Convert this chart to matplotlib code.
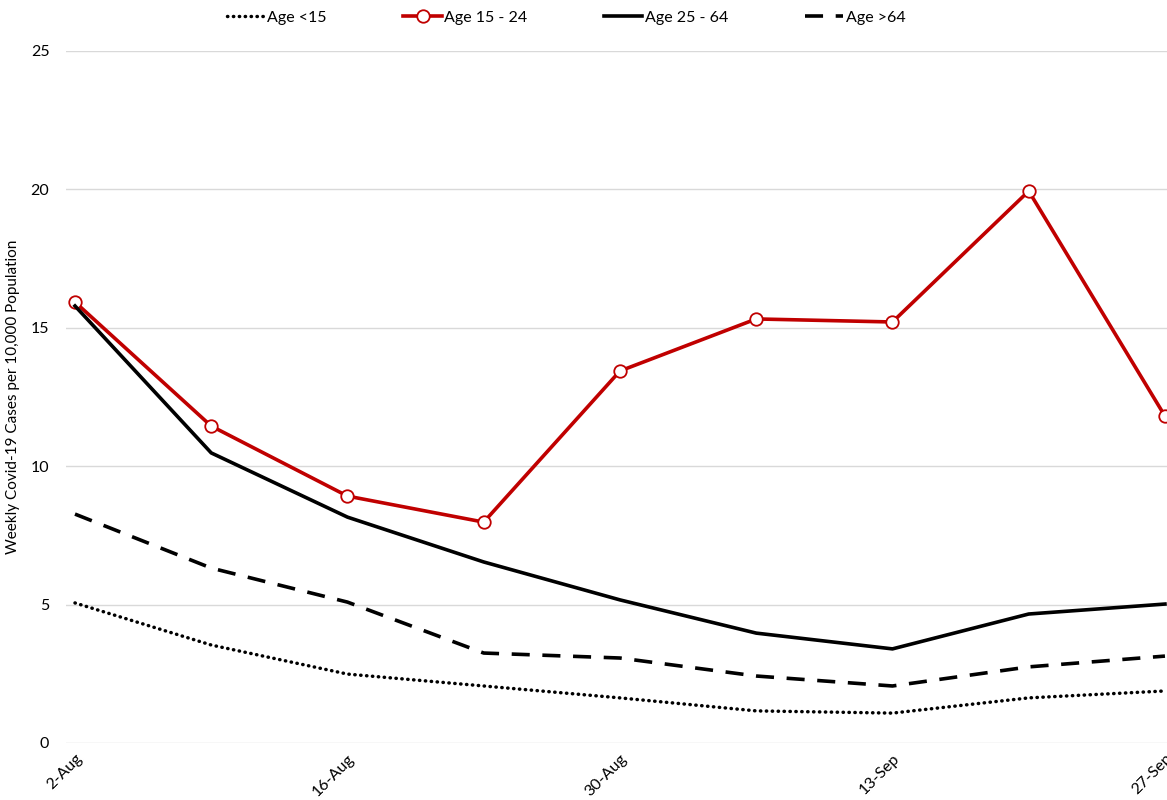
import matplotlib
matplotlib.use("Agg")
import matplotlib.pyplot as plt

plt.rcParams['font.family'] = ['Lato', 'DejaVu Sans']

dates = ["2-Aug", "9-Aug", "16-Aug", "23-Aug", "30-Aug", "6-Sep", "13-Sep", "20-Sep", "27-Sep"]
tick_labels = ["2-Aug", "16-Aug", "30-Aug", "13-Sep", "27-Sep"]
age_lt15 = [5.06, 3.54, 2.49, 2.06, 1.63, 1.16, 1.08, 1.63, 1.88]
age_15_24 = [15.93, 11.45, 8.92, 7.98, 13.44, 15.32, 15.21, 19.94, 11.81]
age_25_64 = [15.79, 10.48, 8.16, 6.54, 5.17, 3.97, 3.40, 4.66, 5.02]
age_gt64 = [8.27, 6.32, 5.09, 3.25, 3.07, 2.42, 2.06, 2.75, 3.14]

fig = plt.figure(figsize=(11.67, 8), dpi=100)
ax = fig.add_axes([66/1167, 1 - 743/800, 1 - 66/1167, (743 - 51)/800])

x = list(range(len(dates)))
red = "#C00000"
ax.plot(x, age_lt15, color="black", lw=2.5, linestyle=(0, (0.1, 1.6)), dash_capstyle="round", label="Age <15")
ax.plot(x, age_15_24, color=red, lw=2.6, marker="o", markersize=9, markerfacecolor="white",
        markeredgecolor=red, markeredgewidth=1.3, label="Age 15 - 24", clip_on=False)
ax.plot(x, age_25_64, color="black", lw=2.6, label="Age 25 - 64")
ax.plot(x, age_gt64, color="black", lw=2.6, linestyle=(0, (5, 3.5)), label="Age >64")

ax.set_xlim(-0.066, 8.015)
ax.set_ylim(0, 25)
ax.set_yticks([0, 5, 10, 15, 20, 25])
ax.set_xticks([dates.index(t) for t in tick_labels])
ax.set_xticklabels(tick_labels, rotation=45, ha="right", va="top", rotation_mode="anchor", fontsize=11.5)
ax.tick_params(axis="y", labelsize=11.5, length=0, pad=12)
ax.tick_params(axis="x", length=0, pad=6)
ax.grid(axis="y", color="#D9D9D9", lw=1)
ax.set_axisbelow(True)
for s in ax.spines.values():
    s.set_visible(False)
ax.set_ylabel("Weekly Covid-19 Cases per 10,000 Population", fontsize=11)
ax.yaxis.set_label_coords(-0.042, 0.5)

leg = fig.legend(loc="upper center", bbox_to_anchor=(0.485, 1.005), ncol=4, frameon=False,
                 fontsize=11.5, handlelength=2.4, handletextpad=0.15, columnspacing=4.8)

fig.savefig("out.png", dpi=100)
